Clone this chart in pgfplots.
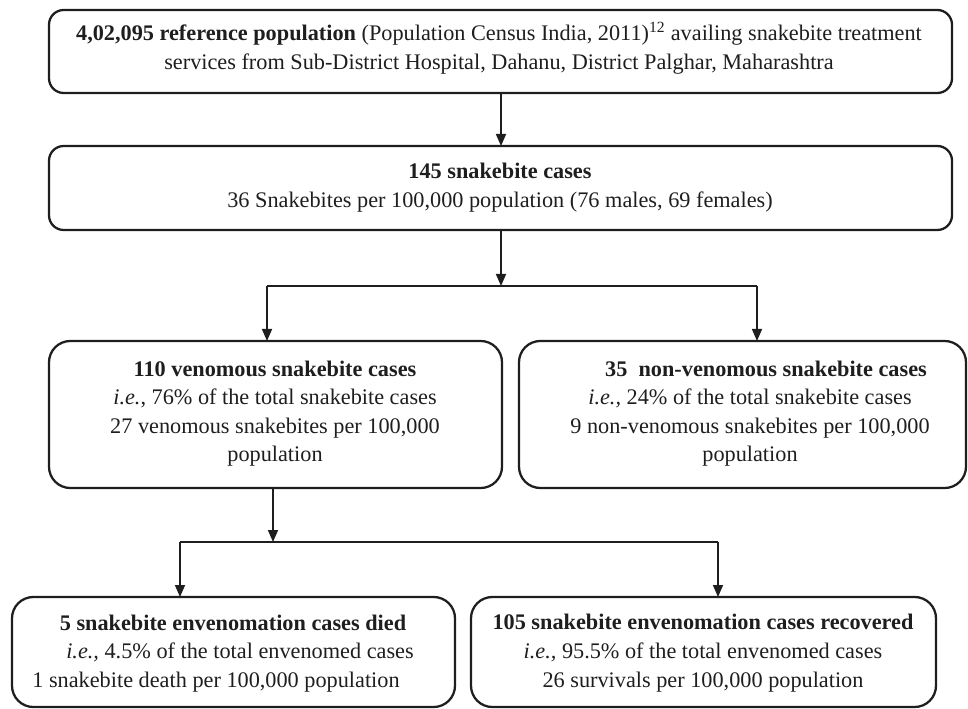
\documentclass[border=0pt]{standalone}
\usepackage{fontspec}
\setmainfont{Liberation Serif}
\usepackage{pgfplots}
\pgfplotsset{compat=1.18}
\usetikzlibrary{arrows.meta}
\definecolor{ink}{HTML}{1E1E1E}
\begin{document}
\begin{tikzpicture}
\begin{axis}[width=726pt, height=531.75pt, scale only axis,
  xmin=0, xmax=968, ymin=0, ymax=709, y dir=reverse,
  hide axis, clip=false]
\path (axis cs:0,0) (axis cs:968,709);
% boxes
\draw[ink, line width=1.7pt, rounded corners=11pt] (axis cs:49,10) rectangle (axis cs:952,93);
\draw[ink, line width=1.7pt, rounded corners=11pt] (axis cs:49,146) rectangle (axis cs:952,230);
\draw[ink, line width=1.7pt, rounded corners=16pt] (axis cs:49,341) rectangle (axis cs:502,488);
\draw[ink, line width=1.7pt, rounded corners=16pt] (axis cs:519,341) rectangle (axis cs:966,488);
\draw[ink, line width=1.7pt, rounded corners=16pt] (axis cs:12,597) rectangle (axis cs:455,707);
\draw[ink, line width=1.7pt, rounded corners=16pt] (axis cs:471,597) rectangle (axis cs:936,707);
% connectors
\pgfplotsset{conn/.style={ink, line width=1.2pt, no markers},
             arr/.style={conn, -{Triangle[length=9pt,width=7.5pt]}}}
\addplot[arr] coordinates {(501,93) (501,146)};
\addplot[arr] coordinates {(501,230) (501,286)};
\addplot[conn] coordinates {(267,286) (757,286)};
\addplot[arr] coordinates {(267,286) (267,341)};
\addplot[arr] coordinates {(757,286) (757,341)};
\addplot[arr] coordinates {(273,488) (273,542)};
\addplot[conn] coordinates {(180,542) (718,542)};
\addplot[arr] coordinates {(180,542) (180,597)};
\addplot[arr] coordinates {(718,542) (718,597)};
% text
\tikzset{t/.style={anchor=base, inner sep=0pt, text=ink, font=\fontsize{16.7}{20}\selectfont}}
\node[t] at (axis cs:499,41) {\textbf{4,02,095 reference population} (Population Census India, 2011)\textsuperscript{12} availing snakebite treatment};
\node[t] at (axis cs:499,70) {services from Sub-District Hospital, Dahanu, District Palghar, Maharashtra};
\node[t] at (axis cs:500,179) {\textbf{145 snakebite cases}};
\node[t] at (axis cs:500,208) {36 Snakebites per 100,000 population (76 males, 69 females)};
\node[t] at (axis cs:275,377) {\textbf{110 venomous snakebite cases}};
\node[t] at (axis cs:275,405) {\textit{i.e.}, 76\% of the total snakebite cases};
\node[t] at (axis cs:275,433) {27 venomous snakebites per 100,000};
\node[t] at (axis cs:275,461) {population};
\node[t] at (axis cs:766,377) {\textbf{35\ \ non-venomous snakebite cases}};
\node[t] at (axis cs:750,405) {\textit{i.e.,} 24\% of the total snakebite cases};
\node[t] at (axis cs:750,433) {9 non-venomous snakebites per 100,000};
\node[t] at (axis cs:750,461) {population};
\node[t] at (axis cs:233,630) {\textbf{5 snakebite envenomation cases died}};
\node[t] at (axis cs:240,658) {\textit{i.e.,} 4.5\% of the total envenomed cases};
\node[t] at (axis cs:216,687) {1 snakebite death per 100,000 population};
\node[t] at (axis cs:703,629) {\textbf{105 snakebite envenomation cases recovered}};
\node[t] at (axis cs:703,658) {\textit{i.e.,} 95.5\% of the total envenomed cases};
\node[t] at (axis cs:703,687) {26 survivals per 100,000 population};
\end{axis}
\end{tikzpicture}
\end{document}
